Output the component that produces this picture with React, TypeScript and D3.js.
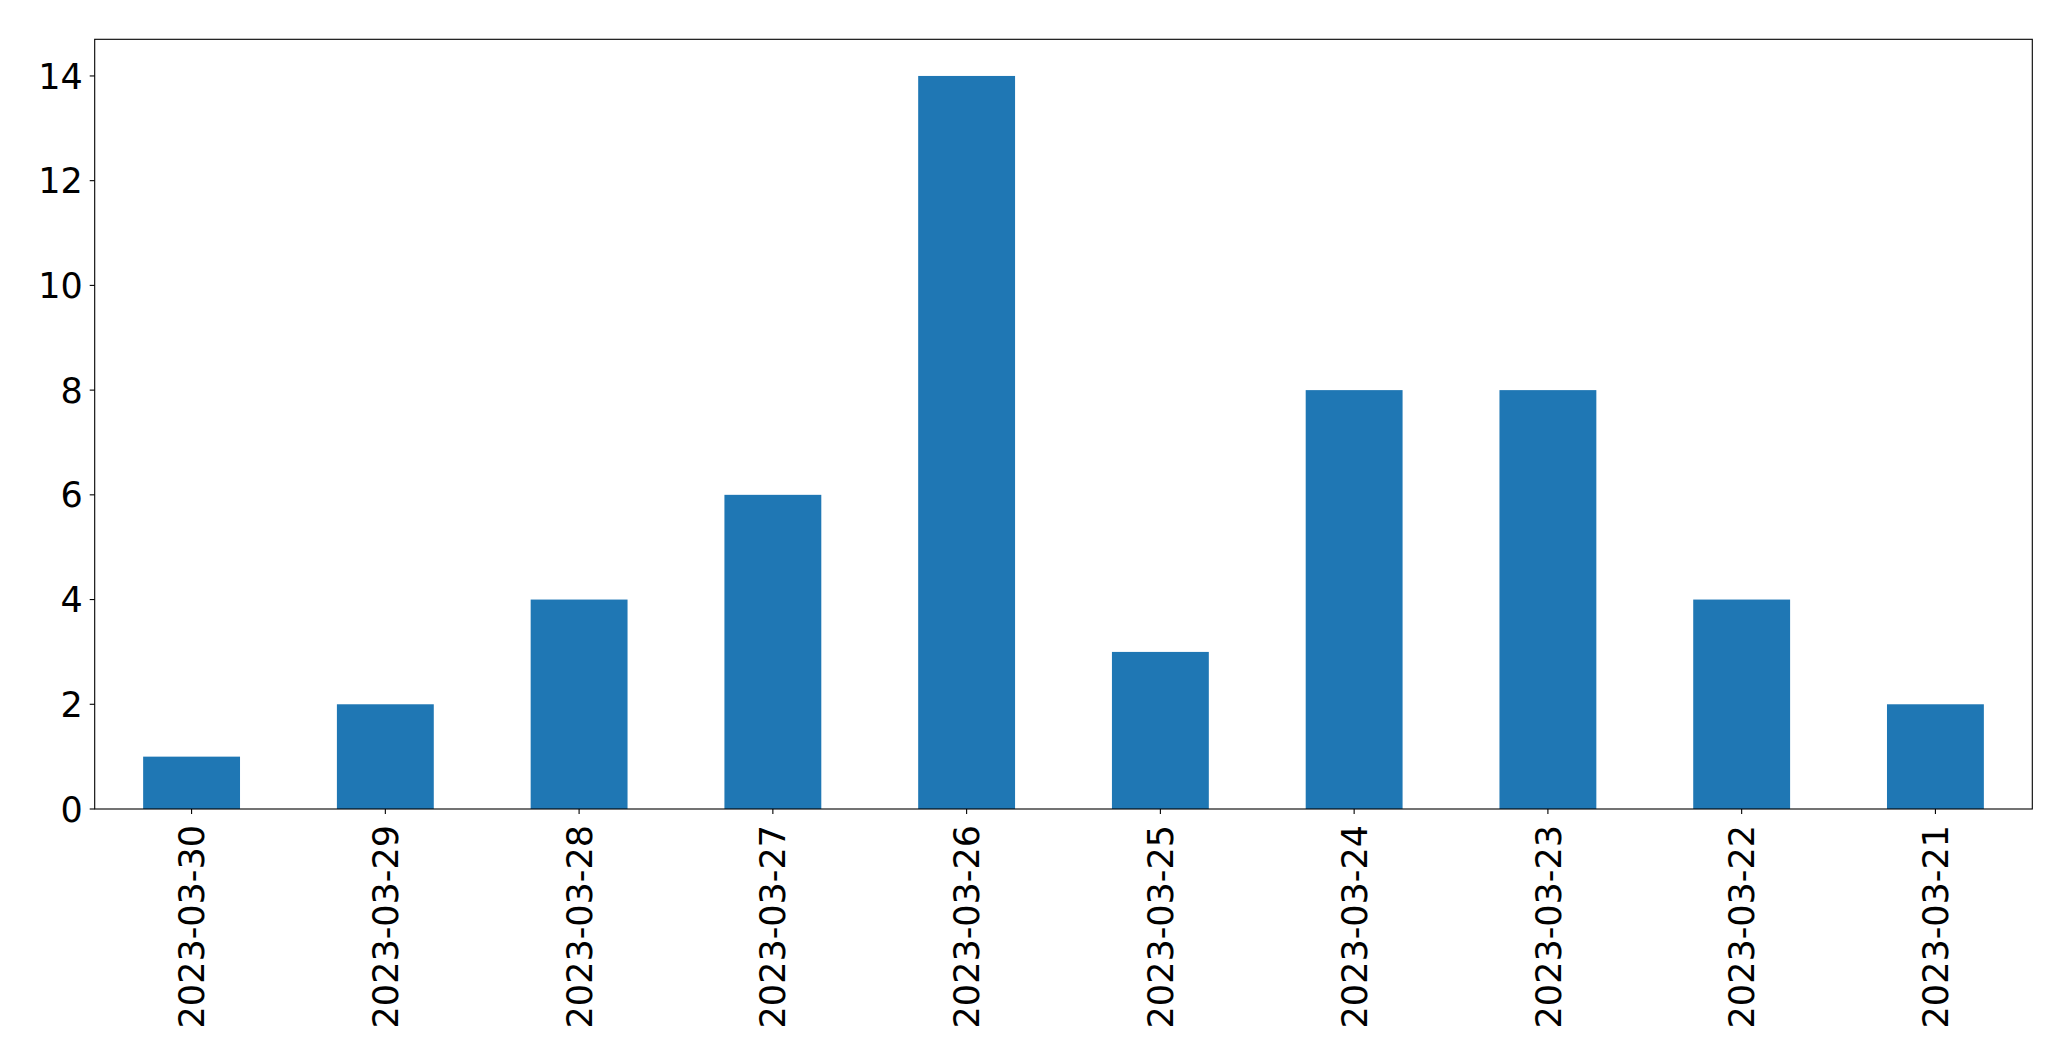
import React from "react";
import * as d3 from "d3";

const categories: string[] = [
  "2023-03-30", "2023-03-29", "2023-03-28", "2023-03-27", "2023-03-26",
  "2023-03-25", "2023-03-24", "2023-03-23", "2023-03-22", "2023-03-21",
];
const counts: number[] = [1, 2, 4, 6, 14, 3, 8, 8, 4, 2];
const yTicks: number[] = [0, 2, 4, 6, 8, 10, 12, 14];

const W = 2071;
const H = 1061;
const M = { left: 94.7, right: 2032.3, top: 39.3, bottom: 809 };
const FONT = "'DejaVu Sans', sans-serif";
const FS = 35;

export default function App() {
  const x = d3.scaleBand<string>().domain(categories).range([M.left, M.right]).paddingInner(0.5).paddingOuter(0.25);
  const y = d3.scaleLinear().domain([0, 14.7]).range([M.bottom, M.top]);
  return (
    <svg width={W} height={H} style={{ position: "absolute", left: 0, top: 0, background: "#fff" }} fontFamily={FONT}>
      <rect x={0} y={0} width={W} height={H} fill="#fff" />
      {categories.map((c, i) => (
        <rect key={c} x={x(c)!} y={y(counts[i])} width={x.bandwidth()} height={y(0) - y(counts[i])} fill="#1f77b4" />
      ))}
      <rect x={M.left} y={M.top} width={M.right - M.left} height={M.bottom - M.top} fill="none" stroke="#000" strokeWidth={1.1} />
      {yTicks.map((t) => (
        <g key={t}>
          <line x1={M.left - 5} x2={M.left} y1={y(t)} y2={y(t)} stroke="#000" strokeWidth={1.1} />
          <text x={M.left - 12} y={y(t)} dy="0.36em" textAnchor="end" fontSize={FS} fill="#000">{t}</text>
        </g>
      ))}
      {categories.map((c) => {
        const cx = x(c)! + x.bandwidth() / 2;
        return (
          <g key={c}>
            <line x1={cx} x2={cx} y1={M.bottom} y2={M.bottom + 5} stroke="#000" strokeWidth={1.1} />
            <text transform={`translate(${cx},${M.bottom + 16}) rotate(-90)`} dy="0.36em" textAnchor="end" fontSize={FS} fill="#000">{c}</text>
          </g>
        );
      })}
    </svg>
  );
}
